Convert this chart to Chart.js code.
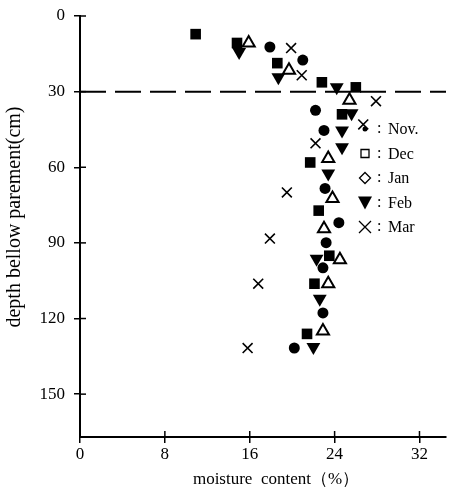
<!DOCTYPE html>
<html>
<head>
<meta charset="utf-8">
<script src="https://cdn.jsdelivr.net/npm/chart.js@4/dist/chart.umd.min.js"></script>
<style>
  html, body { margin: 0; padding: 0; background: #fff; }
  #wrap { width: 462px; height: 496px; }
</style>
</head>
<body>
<div id="wrap"><canvas id="moistureChart" width="462" height="496"></canvas></div>
<script>
// moisture content (%) vs depth (cm)
const novMoisture = [17.9, 21.0, 22.2, 23.0, 23.1, 24.4, 23.2, 22.9, 22.9, 20.2];
const novDepth    = [12.3, 17.5, 37.4, 45.4, 68.4, 82.0, 89.9, 99.9, 117.8, 131.7];

const decMoisture = [10.9, 14.8, 18.6, 22.8, 26.0, 24.7, 21.7, 22.5, 23.5, 22.1, 21.4];
const decDepth    = [7.2, 10.7, 18.7, 26.3, 28.3, 39.0, 58.1, 77.2, 95.1, 106.2, 126.1];

const janMoisture = [15.9, 19.7, 25.4, 23.4, 23.8, 23.0, 24.5, 23.4, 22.9];
const janDepth    = [10.7, 21.5, 33.4, 56.5, 72.4, 84.4, 96.7, 106.2, 125.0];

const febMoisture = [15.0, 18.7, 24.2, 25.6, 24.7, 24.7, 23.4, 22.3, 22.6, 22.0];
const febDepth    = [14.3, 24.3, 28.3, 38.6, 45.4, 52.1, 62.5, 96.3, 112.2, 131.3];

const marMoisture = [19.9, 20.9, 27.9, 26.7, 22.2, 19.5, 17.9, 16.8, 15.8];
const marDepth    = [12.7, 23.5, 33.8, 43.0, 50.5, 70.0, 88.3, 106.2, 131.7];

const monthLabels = ['Nov.', 'Dec', 'Jan', 'Feb', 'Mar'];
const xTicks = [0, 8, 16, 24, 32];
const yTicks = [0, 30, 60, 90, 120, 150];
const boundaryDepth = 30;

const FONT = "'Liberation Serif', 'DejaVu Serif', serif";

function toPoints(xs, ys) {
  return xs.map((x, i) => ({ x: x, y: ys[i] }));
}

// dashed line at 30 cm, inner tick marks, axis titles and the legend
const decorPlugin = {
  id: 'decor',
  afterDraw(chart) {
    const ctx = chart.ctx;
    const xs = chart.scales.x, ys = chart.scales.y;
    const area = chart.chartArea;
    ctx.save();

    // boundary line
    const yb = ys.getPixelForValue(boundaryDepth);
    ctx.strokeStyle = '#000';
    ctx.lineWidth = 2;
    ctx.setLineDash([26, 9]);
    ctx.beginPath();
    ctx.moveTo(area.left, yb);
    ctx.lineTo(area.right, yb);
    ctx.stroke();
    ctx.setLineDash([]);

    // inner half of the tick marks
    ctx.lineWidth = 1.5;
    xTicks.forEach(v => {
      if (v === 0) return;
      const px = xs.getPixelForValue(v);
      ctx.beginPath();
      ctx.moveTo(px, area.bottom);
      ctx.lineTo(px, area.bottom - 6);
      ctx.stroke();
    });
    yTicks.forEach(v => {
      const py = ys.getPixelForValue(v);
      ctx.beginPath();
      ctx.moveTo(area.left, py);
      ctx.lineTo(area.left + 6, py);
      ctx.stroke();
    });

    // axis titles
    ctx.fillStyle = '#000';
    ctx.textAlign = 'center';
    ctx.textBaseline = 'middle';
    ctx.font = '17px ' + FONT;
    ctx.fillText('moisture  content（%）', 276, 480);
    ctx.save();
    ctx.translate(15, 217);
    ctx.rotate(-Math.PI / 2);
    ctx.font = '20px ' + FONT;
    ctx.fillText('depth bellow parement(cm)', 0, 0);
    ctx.restore();

    // legend
    const lx = 365, lyStart = 129, step = 24.5;
    ctx.font = '16px ' + FONT;
    ctx.textAlign = 'left';
    monthLabels.forEach((label, i) => {
      const y = lyStart + i * step;
      ctx.lineWidth = 1.3;
      ctx.beginPath();
      if (i === 0) {
        ctx.arc(lx, y, 2.5, 0, Math.PI * 2);
        ctx.fill();
      } else if (i === 1) {
        ctx.rect(lx - 4, y - 4, 8, 8);
        ctx.stroke();
      } else if (i === 2) {
        ctx.moveTo(lx, y - 5.5);
        ctx.lineTo(lx + 5.5, y);
        ctx.lineTo(lx, y + 5.5);
        ctx.lineTo(lx - 5.5, y);
        ctx.closePath();
        ctx.stroke();
      } else if (i === 3) {
        ctx.moveTo(lx - 7, y - 6);
        ctx.lineTo(lx + 7, y - 6);
        ctx.lineTo(lx, y + 7);
        ctx.closePath();
        ctx.fill();
      } else {
        ctx.moveTo(lx - 6, y - 6);
        ctx.lineTo(lx + 6, y + 6);
        ctx.moveTo(lx + 6, y - 6);
        ctx.lineTo(lx - 6, y + 6);
        ctx.stroke();
      }
      ctx.fillText(':', lx + 12, y);
      ctx.fillText(label, lx + 23, y + 1);
    });

    ctx.restore();
  }
};

const ctx = document.getElementById('moistureChart').getContext('2d');
window.moistureChart = new Chart(ctx, {
  type: 'scatter',
  data: {
    datasets: [
      {
        label: monthLabels[0],
        data: toPoints(novMoisture, novDepth),
        pointStyle: 'circle',
        pointRadius: 5.5,
        backgroundColor: '#000',
        borderColor: '#000',
        borderWidth: 0
      },
      {
        label: monthLabels[1],
        data: toPoints(decMoisture, decDepth),
        pointStyle: 'rect',
        pointRadius: 7.5,
        backgroundColor: '#000',
        borderColor: '#000',
        borderWidth: 0
      },
      {
        label: monthLabels[2],
        data: toPoints(janMoisture, janDepth),
        pointStyle: 'triangle',
        pointRadius: 7,
        backgroundColor: '#fff',
        borderColor: '#000',
        borderWidth: 2
      },
      {
        label: monthLabels[3],
        data: toPoints(febMoisture, febDepth),
        pointStyle: 'triangle',
        pointRotation: 180,
        pointRadius: 8,
        backgroundColor: '#000',
        borderColor: '#000',
        borderWidth: 0
      },
      {
        label: monthLabels[4],
        data: toPoints(marMoisture, marDepth),
        pointStyle: 'crossRot',
        pointRadius: 7,
        backgroundColor: '#000',
        borderColor: '#000',
        borderWidth: 1.6
      }
    ]
  },
  options: {
    responsive: false,
    animation: false,
    layout: { padding: { top: 16, right: 16, left: 0, bottom: 0 } },
    plugins: {
      legend: { display: false },
      tooltip: { enabled: false }
    },
    scales: {
      x: {
        type: 'linear',
        min: 0,
        max: 34.5,
        afterFit: s => { s.height = 59; s.paddingLeft = 0; s.paddingRight = 0; },
        afterBuildTicks: s => { s.ticks = xTicks.map(v => ({ value: v })); },
        border: { display: true, color: '#000', width: 2 },
        grid: { display: true, drawOnChartArea: false, color: '#000', lineWidth: 1.5, tickLength: 6 },
        ticks: { color: '#000', padding: 1, font: { family: FONT, size: 17 } },
        title: { display: false }
      },
      y: {
        type: 'linear',
        reverse: true,
        min: 0,
        max: 167,
        afterFit: s => { s.width = 80; s.paddingTop = 0; s.paddingBottom = 0; },
        afterBuildTicks: s => { s.ticks = yTicks.map(v => ({ value: v })); },
        border: { display: true, color: '#000', width: 2 },
        grid: { display: true, drawOnChartArea: false, color: '#000', lineWidth: 1.5, tickLength: 6 },
        ticks: { color: '#000', padding: 9, font: { family: FONT, size: 17 } },
        title: { display: false }
      }
    }
  },
  plugins: [decorPlugin]
});
</script>
</body>
</html>
